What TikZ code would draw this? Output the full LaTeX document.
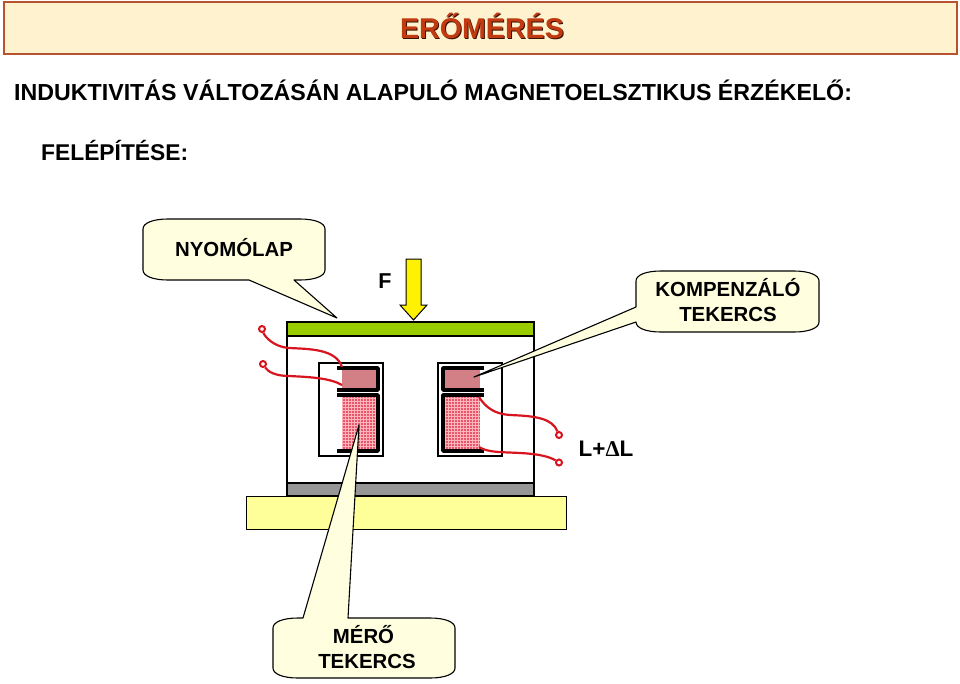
\documentclass[tikz,border=0pt]{standalone}
\usepackage{fontspec}
\setmainfont{Liberation Sans}
\newfontfamily\deltafont{Liberation Serif}
\definecolor{titlefill}{HTML}{FFF2CF}
\definecolor{titleline}{HTML}{B9532F}
\definecolor{titletext}{HTML}{C23A10}
\definecolor{callfill}{HTML}{FFFFE0}
\definecolor{plate}{HTML}{99CC00}
\definecolor{basegrey}{HTML}{969696}
\definecolor{baseyellow}{HTML}{FFFF99}
\definecolor{coilup}{HTML}{D27F86}
\definecolor{coillow}{HTML}{E8566A}
\definecolor{coilgrid}{HTML}{FFB4BC}
\definecolor{wire}{HTML}{D8141E}
\tikzset{
 callout/.style={draw=black,line width=1.1pt,fill=callfill,line join=round},
 label/.style={font=\fontsize{20.4}{25}\selectfont\bfseries,align=center,inner sep=0pt,anchor=base},
 head/.style={font=\bfseries,anchor=base west,inner sep=0pt},
 partbox/.style={draw=black,line width=1.4pt},
 coilbar/.style={line width=3.6pt,draw=black,line join=round},
 wireline/.style={draw=wire,line width=2.2pt},
 wirepin/.style={draw=wire,line width=2pt,fill=white,circle,minimum size=6pt,inner sep=0pt},
}
\newcommand{\grid}[4]{%
 \begin{scope}
 \clip (#1,#2) rectangle (#3,#4);
 \fill[coillow] (#1,#2) rectangle (#3,#4);
 \foreach \gx in {0,3,...,45}{\draw[coilgrid,line width=.8pt] (#1+\gx,#2) -- (#1+\gx,#4);}
 \foreach \gy in {0,3,...,60}{\draw[coilgrid,line width=.8pt] (#1,#2+\gy) -- (#3,#2+\gy);}
 \end{scope}}
\begin{document}
\begin{tikzpicture}[x=1pt,y=-1pt]
\useasboundingbox (0,0) rectangle (960,683);
\fill[white] (0,0) rectangle (960,683);
% title
\draw[draw=titleline,line width=2pt,fill=titlefill] (4,2) rectangle (957,54);
\node[font=\fontsize{28.6}{32}\selectfont\bfseries,text=black!70!titletext,inner sep=0pt,anchor=base] at (483,39) {ERŐMÉRÉS};
\node[font=\fontsize{28.6}{32}\selectfont\bfseries,text=titletext,inner sep=0pt,anchor=base] (title) at (482,38) {ERŐMÉRÉS};
\node[head,font=\fontsize{23.2}{26}\selectfont\bfseries] (h1) at (14,100) {INDUKTIVITÁS VÁLTOZÁSÁN ALAPULÓ MAGNETOELSZTIKUS ÉRZÉKELŐ:};
\node[head,font=\fontsize{22.8}{26}\selectfont\bfseries] (h2) at (41,160) {FELÉPÍTÉSE:};
% body
\draw[partbox,fill=white] (287,336) rectangle (534,483);
\draw[partbox,fill=plate] (287,322) rectangle (534,336);
\draw[partbox,fill=basegrey] (287,483) rectangle (534,496);
\draw[draw=black,line width=1pt,fill=baseyellow] (246,496) rectangle (566,529);
\draw[partbox] (319,363) rectangle (383,456);
\draw[partbox] (438,363) rectangle (502,456);
% left coil
\fill[coilup] (342,368) rectangle (377,390);
\grid{342}{395}{377}{451}
\draw[coilbar] (337,368) -- (378,368) -- (378,390) -- (337,390);
\draw[coilbar] (337,395) -- (378,395) -- (378,451) -- (337,451);
% right coil
\fill[coilup] (445,368) rectangle (480,390);
\grid{445}{395}{480}{451}
\draw[coilbar] (484,368) -- (443,368) -- (443,390) -- (484,390);
\draw[coilbar] (484,395) -- (443,395) -- (443,451) -- (484,451);
% wires
\node[wirepin] (p1) at (262,329) {};
\node[wirepin] (p2) at (263,364) {};
\node[wirepin] (p3) at (559,435) {};
\node[wirepin] (p4) at (559,462.5) {};
\coordinate (c1) at (342,367);
\coordinate (c2) at (342,385);
\coordinate (c3) at (479,397);
\coordinate (c4) at (479,447);
\draw[wireline] (p1) .. controls (265,337) and (274,347) .. (289,348) .. controls (310,349) and (336,349) .. (c1);
\draw[wireline] (p2) .. controls (268,372) and (276,376) .. (289,376) .. controls (310,377) and (330,378) .. (c2);
\draw[wireline] (c3) .. controls (486,408) and (495,414) .. (510,415) .. controls (535,416) and (552,418) .. (p3);
\draw[wireline] (c4) .. controls (488,453) and (505,452) .. (520,453) .. controls (540,454) and (550,457) .. (p4);
% force
\draw[draw=black,line width=1pt,fill=yellow,line join=miter] (406,259) -- (421,259) -- (421,305) -- (427,305) -- (413.5,320) -- (400,305) -- (406,305) -- cycle;
\node[label,font=\fontsize{21.5}{25}\selectfont\bfseries] (f) at (385,288) {F};
% callouts
\draw[callout] (168,219) .. controls (153,219) and (143,223) .. (143,229)
 -- (143,270) .. controls (143,276) and (153,280) .. (168,280)
 -- (249,280) -- (337,318) -- (294,280) -- (300,280)
 .. controls (315,280) and (325,276) .. (325,270) -- (325,229)
 .. controls (325,223) and (315,219) .. (300,219) -- cycle;
\node[label] (n) at (234,256) {NYOMÓLAP};
\draw[callout] (661,271) .. controls (646,271) and (636,275) .. (636,281)
 -- (636,307) -- (474,377) -- (636,322)
 .. controls (636,328) and (646,332) .. (661,332)
 -- (794,332) .. controls (809,332) and (819,328) .. (819,322) -- (819,281)
 .. controls (819,275) and (809,271) .. (794,271) -- cycle;
\node[label] (k1) at (728,296) {KOMPENZÁLÓ};
\node[label] (k2) at (728,321) {TEKERCS};
\draw[callout] (298,618) .. controls (283,618) and (273,622) .. (273,628)
 -- (273,668) .. controls (273,674) and (283,678) .. (298,678)
 -- (430,678) .. controls (445,678) and (455,674) .. (455,668) -- (455,628)
 .. controls (455,622) and (445,618) .. (430,618)
 -- (348,618) -- (359,425) -- (303,618) -- cycle;
\node[label] (m1) at (363.5,643) {MÉRŐ};
\node[label] (m2) at (367,668) {TEKERCS};
\node[label,font=\fontsize{22.5}{25}\selectfont\bfseries] (l) at (606,456) {L+{\deltafont Δ}L};
\end{tikzpicture}
\end{document}
